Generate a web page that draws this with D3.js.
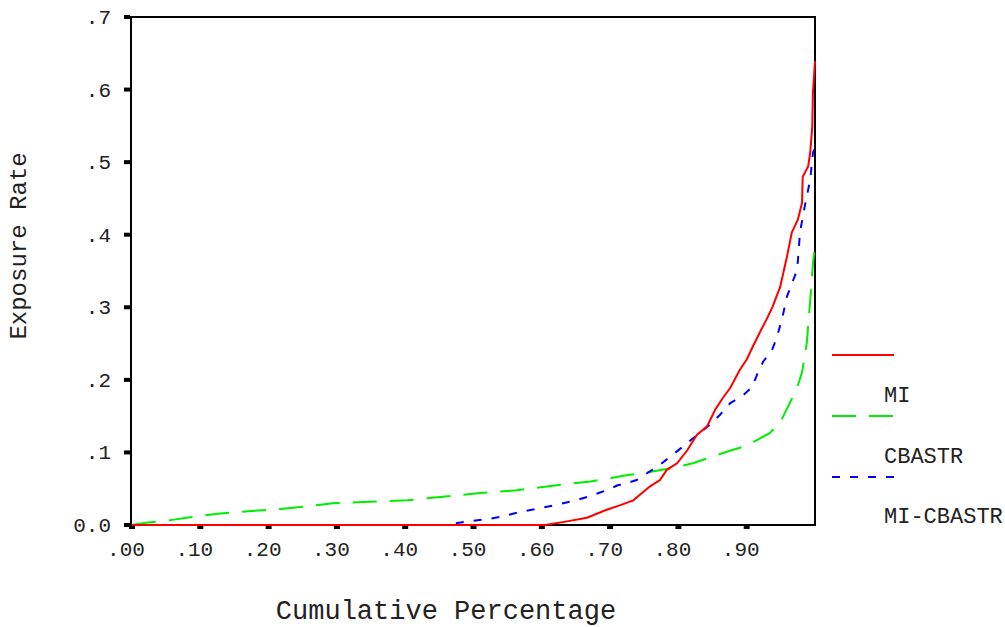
<!DOCTYPE html>
<html><head><meta charset="utf-8">
<script src="https://cdn.jsdelivr.net/npm/d3@7"></script>
<style>body{margin:0;background:#fff}text{font-family:"Liberation Mono","Courier New",monospace;fill:#222}</style>
</head><body>
<svg id="c" width="1005" height="627"></svg>
<script>
const xTicks = [0, .1, .2, .3, .4, .5, .6, .7, .8, .9];
const xTickLabels = [".00", ".10", ".20", ".30", ".40", ".50", ".60", ".70", ".80", ".90"];
const yTicks = [0, .1, .2, .3, .4, .5, .6, .7];
const yTickLabels = ["0.0", ".1", ".2", ".3", ".4", ".5", ".6", ".7"];
const seriesNames = ["", "MI", "CBASTR", "MI-CBASTR"];

const redX = [0, .605, .637, .666, .695, .714, .734, .758, .773, .783, .798, .813, .827, .842, .854, .865, .876, .890, .900, .909, .919, .930, .938, .949, .959, .966, .975, .981, .982, .990, .993, .996, .997, 1.0];
const redY = [0, 0, .005, .010, .021, .027, .034, .053, .062, .076, .085, .103, .124, .136, .159, .175, .189, .214, .228, .246, .265, .285, .301, .328, .370, .403, .421, .444, .480, .494, .513, .549, .596, .639];

const greenX = [0, .02, .051, .08, .129, .17, .217, .26, .294, .348, .403, .455, .510, .564, .616, .671, .690, .704, .719, .758, .798, .821, .871, .895, .915, .934, .949, .963, .974, .981, .988, .993, .997, 1.0];
const greenY = [0, .003, .006, .010, .016, .019, .022, .026, .030, .032, .034, .039, .044, .048, .054, .060, .063, .065, .068, .073, .080, .085, .101, .108, .117, .127, .141, .168, .190, .210, .251, .310, .360, .386];

const blueX = [0, .461, .490, .520, .543, .568, .597, .622, .646, .671, .695, .712, .719, .739, .773, .792, .813, .846, .861, .876, .895, .908, .915, .924, .937, .944, .952, .959, .974, .978, .985, .993, .997, 1.0];
const blueY = [0, 0, .005, .008, .012, .018, .023, .028, .033, .040, .048, .055, .056, .062, .083, .097, .113, .138, .152, .168, .179, .190, .207, .225, .241, .258, .285, .315, .352, .403, .439, .476, .513, .520];

const svg = d3.select("#c");
const x = d3.scaleLinear().domain([0, 1]).range([132, 815]);
const y = d3.scaleLinear().domain([0, .7]).range([525, 17]);

const zip = (a, b) => a.map((v, i) => [v, b[i]]);
const series = [
  {name: seriesNames[0], data: zip(redX, redY), color: "#ff0000", dash: null},
  {name: seriesNames[1], data: zip(greenX, greenY), color: "#00ee00", dash: "24,13"},
  {name: seriesNames[2], data: zip(blueX, blueY), color: "#0000ff", dash: "8,10"}
];

const line = d3.line().x(d => x(d[0])).y(d => y(d[1]));

// frame
svg.append("rect").attr("x", 131).attr("y", 17).attr("width", 815 - 131).attr("height", 525 - 17)
  .attr("fill", "none").attr("stroke", "#000").attr("stroke-width", 2);

// ticks
svg.selectAll(".xt").data(xTicks).enter().append("rect")
  .attr("x", d => x(d) - 3).attr("y", 525).attr("width", 6).attr("height", 4).attr("fill", "#000");
svg.selectAll(".yt").data(yTicks).enter().append("rect")
  .attr("x", 124).attr("y", d => y(d) - 2).attr("width", 6).attr("height", 4).attr("fill", "#000");

svg.selectAll(".xl").data(xTicks).enter().append("text")
  .attr("x", d => x(d) - 6).attr("y", 556).attr("text-anchor", "middle")
  .style("font-size", "21px").text((d, i) => xTickLabels[i]);
svg.selectAll(".yl").data(yTicks).enter().append("text")
  .attr("x", 111).attr("y", d => y(d) + 7).attr("text-anchor", "end")
  .style("font-size", "21px").text((d, i) => yTickLabels[i]);

// lines: draw in order green, blue, red
[series[1], series[2], series[0]].forEach(s => {
  svg.append("path").attr("d", line(s.data)).attr("fill", "none")
    .attr("stroke", s.color).attr("stroke-width", 2)
    .attr("stroke-dasharray", s.dash);
});

// axis titles
svg.append("text").attr("x", 446).attr("y", 619).attr("text-anchor", "middle")
  .style("font-size", "27px").text("Cumulative Percentage");
svg.append("text").attr("transform", "translate(26,246) rotate(-90)").attr("text-anchor", "middle")
  .style("font-size", "24px").text("Exposure Rate");

// legend
const legY = [355, 416, 477];
series.forEach((s, i) => {
  svg.append("line").attr("x1", 832).attr("x2", 894).attr("y1", legY[i]).attr("y2", legY[i])
    .attr("stroke", s.color).attr("stroke-width", 2).attr("stroke-dasharray", s.dash);
});
const legText = [[seriesNames[1], 402], [seriesNames[2], 463], [seriesNames[3], 523]];
legText.forEach(t => {
  svg.append("text").attr("x", 884).attr("y", t[1]).style("font-size", "22px").text(t[0]);
});
</script>
</body></html>
